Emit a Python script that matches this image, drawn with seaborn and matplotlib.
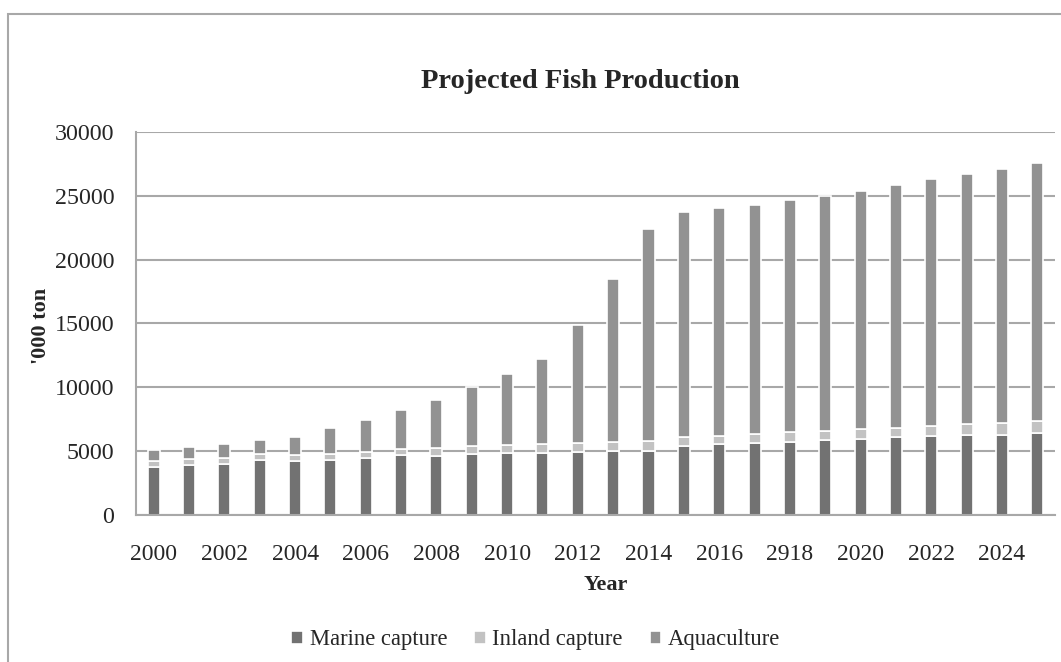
import numpy as np
import pandas as pd
import matplotlib
matplotlib.use("Agg")
import matplotlib.pyplot as plt
import seaborn as sns
from matplotlib.patches import Rectangle
from matplotlib.ticker import FixedLocator

years = [str(y) for y in range(2000, 2026)]
tick_labels = ["2000", "2002", "2004", "2006", "2008", "2010", "2012",
               "2014", "2016", "2918", "2020", "2022", "2024"]

marine = [3780, 3940, 3990, 4300, 4250, 4330, 4490, 4670, 4640, 4750,
          4830, 4850, 4930, 5010, 5040, 5430, 5560, 5610, 5720, 5850,
          5970, 6080, 6160, 6240, 6260, 6400]
inland = [420, 420, 470, 480, 470, 470, 440, 470, 580, 630,
          650, 680, 680, 680, 750, 700, 650, 710, 750, 750,
          740, 760, 810, 860, 920, 960]
aquaculture = [890, 990, 1070, 1070, 1410, 2040, 2530, 3110, 3780, 4670,
               5560, 6680, 9290, 12810, 16610, 17570, 17840, 17950, 18170, 18380,
               18630, 18970, 19320, 19580, 19940, 20230]

series = ["Marine capture", "Inland capture", "Aquaculture"]
colors = ["#727272", "#c2c2c2", "#929292"]

df = pd.DataFrame({"Year": years, "Marine capture": marine,
                   "Inland capture": inland, "Aquaculture": aquaculture})

sns.set_style("white")
plt.rcParams["font.family"] = ["Liberation Serif", "DejaVu Serif"]

fig = plt.figure(figsize=(10.61, 6.62), dpi=100)
ax = fig.add_axes([0.1282, 0.2221, 0.8661, 0.5785])

# stacked bars, one layer per series
bottom = np.zeros(len(years))
for name, col in zip(series, colors):
    sns.barplot(data=df, x="Year", y=name, color=col, width=0.34,
                bottom=bottom, edgecolor="white", linewidth=1.2,
                saturation=1, ax=ax, label=name)
    bottom = bottom + df[name].values

handles, labels = ax.get_legend_handles_labels()
if ax.get_legend() is not None:
    ax.get_legend().remove()

ax.set_xlim(-0.5, len(years) - 0.5)
ax.set_ylim(0, 30000)
ax.set_yticks(range(0, 30001, 5000))
ax.set_yticklabels([str(v) for v in range(0, 30001, 5000)], fontsize=17.3)
ax.set_xticks(range(0, len(years), 2))
ax.set_xticklabels(tick_labels, fontsize=17)
ax.xaxis.set_minor_locator(FixedLocator(np.arange(-0.5, len(years), 1.0)))
ax.tick_params(axis="x", which="major", length=0, pad=21)
ax.tick_params(axis="x", which="minor", direction="in", length=5,
               color="#9a9a9a", width=1.2)
ax.tick_params(axis="y", length=0, pad=15.5)

ax.yaxis.grid(True, color="#a8a8a8", linewidth=1.5)
ax.set_axisbelow(True)
for s in ["top", "right"]:
    ax.spines[s].set_visible(False)
for s in ["left", "bottom"]:
    ax.spines[s].set_color("#a8a8a8")
    ax.spines[s].set_linewidth(1.5)
ax.set_xlabel("")
ax.set_ylabel("")

fig.text(580 / 1061, 1 - 82 / 662, "Projected Fish Production",
         ha="center", va="center", fontsize=20.5, fontweight="bold")
fig.text(606 / 1061, 1 - 585 / 662, "Year", ha="center", va="center",
         fontsize=16, fontweight="bold")
fig.text(41 / 1061, 1 - 326 / 662, "'000 ton", ha="center", va="center",
         rotation=90, fontsize=16, fontweight="bold")

fig.legend(handles, labels, loc="center", bbox_to_anchor=(0.505, 1 - 640 / 662),
           ncol=3, frameon=False, fontsize=16.3, handlelength=0.5,
           handleheight=0.5, handletextpad=0.3, columnspacing=1.2)

fig.patches.append(Rectangle((8 / 1061, -0.1), 1.2, 1.1 - 14 / 662,
                             transform=fig.transFigure, fill=False,
                             edgecolor="#a8a8a8", linewidth=1.5))

fig.savefig("out.png", dpi=100)
